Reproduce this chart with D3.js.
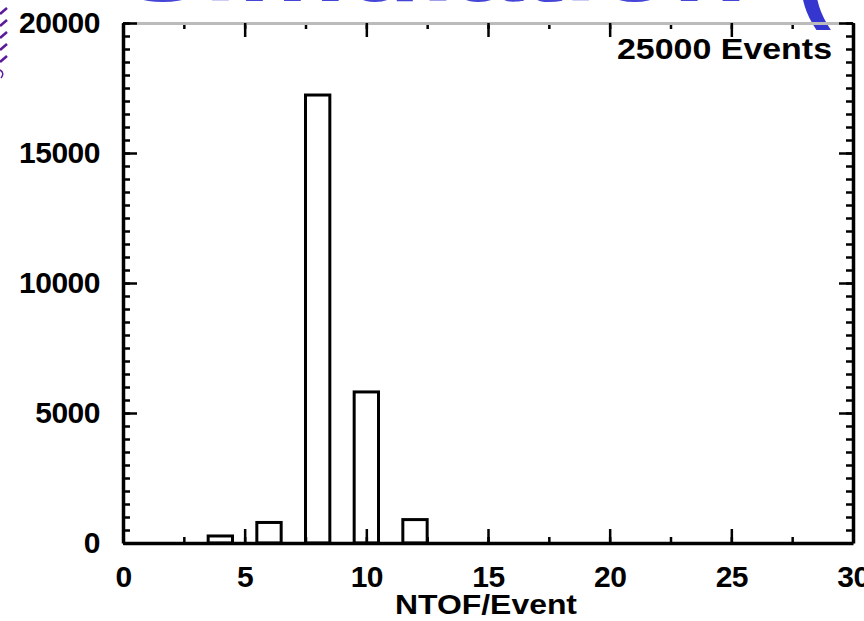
<!DOCTYPE html>
<html><head><meta charset="utf-8">
<script src="https://cdn.jsdelivr.net/npm/d3@7"></script>
<style>
html,body{margin:0;padding:0;background:#fff;overflow:hidden}
text{font-family:"Liberation Sans",Arial,sans-serif;font-weight:bold}
</style></head>
<body><svg id="c" width="864" height="621"></svg>
<script>
// ---- data ----
const binCenters = [4, 6, 8, 10, 12];
const binCounts = [270, 790, 17230, 5810, 900];
const xTickValues = [0, 5, 10, 15, 20, 25, 30];
const yTickValues = [0, 5000, 10000, 15000, 20000];
const xLabel = "NTOF/Event";
const annotation = "25000 Events";
const headerText = "Simulation";

const svg = d3.select("#c");
const L = 123, R = 853, T = 23, B = 543;
const x = d3.scaleLinear().domain([0, 30]).range([L, R]);
const y = d3.scaleLinear().domain([0, 20000]).range([B, T]);

// slide remnants at the top
svg.append("text").attr("x", 122).attr("y", 1).attr("font-size", 78)
  .attr("fill", "#4545d8").attr("textLength", 625).attr("lengthAdjust", "spacingAndGlyphs")
  .text(headerText);
svg.append("text").attr("x", 796).attr("y", 8).attr("font-size", 105)
  .attr("fill", "#3535d0").attr("font-weight", "normal").text("(");
// purple decoration left
const pg = svg.append("g").attr("stroke", "#5a1a9a").attr("stroke-width", 2.5).attr("fill", "none");
[8, 20, 32, 44, 56].forEach(v => pg.append("line").attr("x1", 0).attr("y1", v + 6).attr("x2", 7).attr("y2", v));
pg.append("path").attr("d", "M0,70 q5,3 1,8").attr("stroke-width", 1.5);

// bars
svg.append("g").selectAll("rect").data(binCenters).join("rect")
  .attr("x", d => x(d - 0.5))
  .attr("width", d => x(d + 0.5) - x(d - 0.5))
  .attr("y", (d, i) => y(binCounts[i]))
  .attr("height", (d, i) => y(0) - y(binCounts[i]))
  .attr("fill", "#fff").attr("stroke", "#000").attr("stroke-width", 3);

// axes
const fontSize = 30;
function styleAxis(g, showDomain) {
  g.selectAll("line").attr("stroke", "#000").attr("stroke-width", 2.5);
  if (!showDomain) g.select(".domain").remove();
  g.selectAll("text").attr("fill", "#000").attr("font-size", fontSize)
    .attr("font-family", "Liberation Sans, Arial, sans-serif").attr("font-weight", "bold")
    .attr("letter-spacing", -0.5);
}
const xMinor = d3.range(0, 30.01, 2.5);
const yMinor = d3.range(0, 20001, 500);

// bottom
svg.append("g").attr("transform", `translate(0,${B})`)
  .call(d3.axisBottom(x).tickValues(xMinor).tickSize(-6).tickFormat(""))
  .call(g => styleAxis(g, false));
svg.append("g").attr("transform", `translate(0,${B})`)
  .call(d3.axisBottom(x).tickValues(xTickValues).tickSizeInner(-14).tickSizeOuter(0).tickPadding(23).tickFormat(d3.format("d")))
  .call(g => { styleAxis(g, true); g.select(".domain").attr("stroke-width", 3.5); });
// top
svg.append("g").attr("transform", `translate(0,${T})`)
  .call(d3.axisTop(x).tickValues(xMinor).tickSize(-6).tickFormat(""))
  .call(g => styleAxis(g, false));
svg.append("g").attr("transform", `translate(0,${T})`)
  .call(d3.axisTop(x).tickValues(xTickValues).tickSizeInner(-14).tickSizeOuter(0).tickFormat(""))
  .call(g => { styleAxis(g, true); g.select(".domain").attr("stroke", "#bbb").attr("stroke-width", 3); });
// left
svg.append("g").attr("transform", `translate(${L},0)`)
  .call(d3.axisLeft(y).tickValues(yMinor).tickSize(-7).tickFormat(""))
  .call(g => styleAxis(g, false));
svg.append("g").attr("transform", `translate(${L},0)`)
  .call(d3.axisLeft(y).tickValues(yTickValues).tickSizeInner(-14).tickSizeOuter(0).tickPadding(23).tickFormat(d3.format("d")))
  .call(g => { styleAxis(g, true); g.select(".domain").attr("stroke-width", 3.5); });
// right
svg.append("g").attr("transform", `translate(${R},0)`)
  .call(d3.axisRight(y).tickValues(yMinor).tickSize(-7).tickFormat(""))
  .call(g => styleAxis(g, false));
svg.append("g").attr("transform", `translate(${R},0)`)
  .call(d3.axisRight(y).tickValues(yTickValues).tickSizeInner(-14).tickSizeOuter(0).tickFormat(""))
  .call(g => { styleAxis(g, true); g.select(".domain").attr("stroke-width", 3.5); });

// annotation
svg.append("text").attr("x", 617).attr("y", 59)
  .attr("font-size", 30).attr("textLength", 215).attr("lengthAdjust", "spacingAndGlyphs")
  .attr("fill", "#000").text(annotation);
// x label
svg.append("text").attr("x", 395).attr("y", 614)
  .attr("font-size", 28).attr("textLength", 182).attr("lengthAdjust", "spacingAndGlyphs")
  .attr("fill", "#000").text(xLabel);
</script></body></html>
